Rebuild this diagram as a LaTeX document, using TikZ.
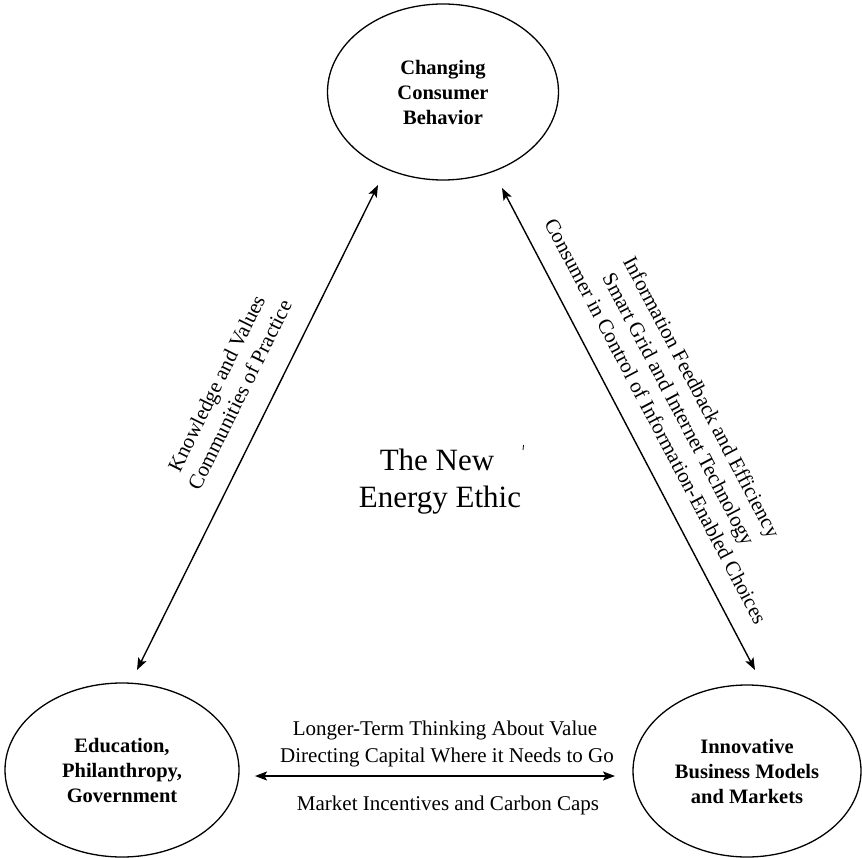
\documentclass[tikz,border=0pt]{standalone}
\usepackage{fontspec}
\setmainfont{Liberation Serif}
\usetikzlibrary{shapes.geometric,arrows.meta}
\begin{document}
\begin{tikzpicture}[x=1pt,y=-1pt,
  oval/.style={draw,ellipse,line width=1.3pt,inner sep=0pt,align=center,
    font=\fontsize{20.5}{25}\selectfont\bfseries},
  link/.style={line width=1.4pt,
    {Stealth[length=12pt,width=9pt,inset=2.5pt]}-{Stealth[length=12pt,width=9pt,inset=2.5pt]}},
  lab/.style={align=center,inner sep=0pt,font=\fontsize{21}{26}\selectfont},
  title/.style={inner sep=0pt,font=\fontsize{31}{37}\selectfont}]
\useasboundingbox (0,0) rectangle (862,858);
% ellipses
\node[oval,minimum width=231pt,minimum height=176pt] (ccb) at (443,92) {Changing\\Consumer\\Behavior};
\node[oval,minimum width=234pt,minimum height=174pt] (epg) at (122,770) {Education,\\Philanthropy,\\Government};
\node[oval,minimum width=228pt,minimum height=172pt] (ibm) at (747,771) {Innovative\\Business Models\\and Markets};
% connector ends
\coordinate (lt) at (378,185);
\coordinate (lb) at (137,670);
\coordinate (rt) at (502,188);
\coordinate (rb) at (755,670);
\coordinate (hl) at (255,776);
\coordinate (hr) at (615,776);
\draw[link] (lb) -- (lt);
\draw[link] (rt) -- (rb);
\draw[link] (hl) -- (hr);
% labels
\node[lab,rotate=63.6] (kv) at (228,389) {Knowledge and Values\\Communities of Practice};
\node[lab,rotate=-62.3] (ifb) at (679,409) {Information Feedback and Efficiency\\Smart Grid and Internet Technology\\Consumer in Control of Information-Enabled Choices};
\node[lab,anchor=base] (ltt) at (445,735) {Longer-Term Thinking About Value};
\node[lab,anchor=base] (dc) at (447,762) {Directing Capital Where it Needs to Go};
\node[lab,anchor=base] (mi) at (448,810) {Market Incentives and Carbon Caps};
% centre title
\node[title,anchor=base] (t1) at (437,470) {The New};
\node[title,anchor=base] (t2) at (440,507) {Energy Ethic};
% small stray tick
\coordinate (tk1) at (523.5,445);
\coordinate (tk2) at (523,450);
\draw[line width=0.8pt] (tk1) -- (tk2);
\end{tikzpicture}
\end{document}
